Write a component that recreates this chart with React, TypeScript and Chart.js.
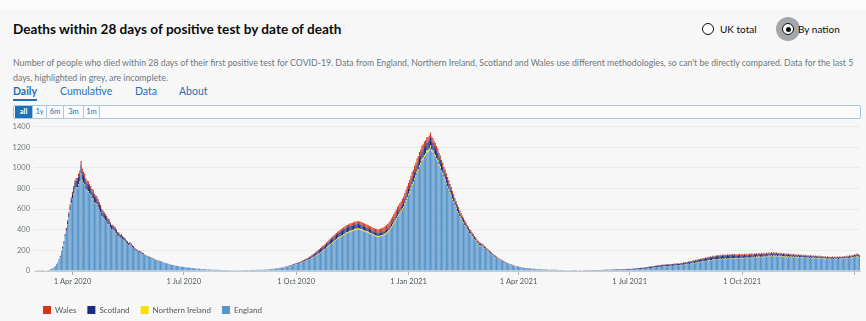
import React, { useEffect, useRef } from "react";
import { Chart, registerables } from "chart.js";

Chart.register(...registerables);

// ---------- data ----------
const START_DATE = "2020-03-01";
const END_DATE = "2022-01-05";

const tickDates = ["2020-04-01", "2020-07-01", "2020-10-01", "2021-01-01", "2021-04-01", "2021-07-01", "2021-10-01", "2022-01-01"];
const tickLabels = ["1 Apr 2020", "1 Jul 2020", "1 Oct 2020", "1 Jan 2021", "1 Apr 2021", "1 Jul 2021", "1 Oct 2021", ""];

const yMax = 1400;
const yStep = 200;

const seriesNames = ["England", "Northern Ireland", "Scotland", "Wales"];
const seriesColors = ["#5694ca", "#ffdd00", "#1a2a80", "#d4351c"];

const england = [
  /* Mar 2020 */ 0,0,1,0,1,2,1,3,2,5, 6,9,12,14,21,25,36,47,63,80, 106,138,182,222,268,332,388,452,518,588, 648,
  /* Apr 2020 */ 694,742,786,806,798,836,858,938,872,846, 830,786,772,764,742,726,698,694,656,648, 640,612,588,566,528,514,502,488,474,452,
  /* May 2020 */ 446,418,396,398,386,378,362,338,332,316, 322,306,298,288,272,262,248,256,244,228, 222,206,196,188,176,182,174,164,162,148, 142,
  /* Jun 2020 */ 138,136,128,126,118,116,108,104,102,98, 96,88,86,80,82,74,72,70,66,62, 58,56,56,50,50,48,44,44,40,40,
  /* Jul 2020 */ 38,36,36,32,34,30,30,28,26,26, 24,22,22,20,20,18,19,16,16,15, 15,14,14,12,13,12,12,11,11,11, 10,
  /* Aug 2020 */ 10,10,9,9,9,8,9,8,8,7, 8,7,8,9,8,7,8,9,8,9, 10,9,8,9,10,11,10,9,10,11, 12,
  /* Sep 2020 */ 12,11,12,13,14,13,15,16,17,16, 18,20,21,22,24,25,26,28,30,32, 34,36,40,42,46,48,50,54,58,62,
  /* Oct 2020 */ 64,66,70,74,78,82,88,92,96,100, 106,110,118,126,130,138,146,152,162,170, 178,188,196,202,210,222,232,244,254,262, 272,
  /* Nov 2020 */ 278,292,300,312,318,326,332,338,348,352, 362,366,370,378,380,386,388,398,394,400, 404,398,396,392,386,382,376,374,370,362,
  /* Dec 2020 */ 356,352,344,342,334,332,326,330,334,336, 340,346,352,362,372,386,402,420,438,462, 480,500,522,540,556,572,592,612,642,672, 702,
  /* Jan 2021 */ 734,758,794,826,848,884,908,946,968,1006, 1028,1066,1078,1104,1118,1146,1150,1166,1195,1158, 1146,1118,1104,1078,1056,1018,996,958,936,898, 874,
  /* Feb 2021 */ 842,808,782,748,724,688,662,628,604,572, 552,522,502,478,462,438,422,398,382,362, 352,332,322,302,292,272,262,248,
  /* Mar 2021 */ 245,238,230,220,212,202,192,182,172,162, 152,142,134,126,118,110,104,98,92,86, 80,75,70,66,62,58,54,50,47,44, 41,
  /* Apr 2021 */ 38,36,34,32,30,28,27,26,25,24, 22,21,20,19,18,17,17,16,15,15, 14,14,13,13,12,12,11,11,11,10,
  /* May 2021 */ 10,10,9,9,9,8,8,8,7,7, 7,7,6,6,6,6,6,6,6,5, 6,6,5,6,6,5,6,6,6,7, 7,
  /* Jun 2021 */ 7,6,7,6,7,7,8,7,8,8, 8,9,8,9,9,10,9,10,10,11, 10,11,11,12,11,12,12,13,12,12,
  /* Jul 2021 */ 12,11,14,13,15,14,16,17,16,19, 18,21,20,23,24,23,27,28,27,32, 31,35,34,37,38,37,41,40,43,42, 46,
  /* Aug 2021 */ 43,47,45,49,47,51,49,53,51,55, 52,57,55,60,58,64,61,67,65,72, 69,76,73,80,77,84,81,88,85,92, 89,
  /* Sep 2021 */ 96,93,100,97,103,99,107,103,109,105, 111,107,113,109,116,111,117,112,118,113, 119,114,120,115,121,116,120,117,123,118,
  /* Oct 2021 */ 124,118,126,120,127,121,129,123,131,124, 133,125,134,127,136,128,138,130,140,132, 142,134,144,136,146,137,147,138,145,136, 143,
  /* Nov 2021 */ 138,142,134,140,132,138,131,136,130,135, 128,134,127,133,126,132,125,131,124,130, 123,129,122,128,121,127,120,126,119,124,
  /* Dec 2021 */ 120,124,117,123,116,122,115,121,114,120, 113,119,113,118,112,118,112,119,113,120, 114,121,116,123,118,125,120,128,124,131, 128,
  /* Jan 2022 */ 136,132,140,135,130,
];

const northernIreland = [
  /* Mar 2020 */ 0,0,0,0,0,0,0,0,0,0, 0,0,0,0,0,0,0,0,0,0, 1,1,1,1,2,2,3,3,4,4, 5,
  /* Apr 2020 */ 6,6,7,7,8,8,8,10,9,9, 9,8,8,8,8,7,7,7,7,6, 6,6,6,5,5,5,5,4,4,4,
  /* May 2020 */ 4,4,4,3,3,3,3,3,3,2, 2,2,2,2,2,2,2,1,1,1, 1,1,1,1,1,1,1,1,1,1, 1,
  /* Jun 2020 */ 1,1,1,0,1,0,1,0,0,1, 0,0,1,0,0,0,1,0,0,0, 0,0,0,1,0,0,0,0,0,0,
  /* Jul 2020 */ 0,0,0,0,0,0,0,0,0,0, 0,0,0,0,0,0,0,0,0,0, 0,0,0,0,0,0,0,0,0,0, 0,
  /* Aug 2020 */ 0,0,0,0,0,0,0,0,0,0, 0,0,0,0,0,0,0,0,0,0, 0,0,0,0,0,0,0,0,0,0, 0,
  /* Sep 2020 */ 0,0,0,0,0,0,0,0,0,0, 0,0,0,0,0,0,0,0,0,0, 0,1,0,1,0,1,1,1,1,1,
  /* Oct 2020 */ 1,1,1,2,2,2,2,2,3,3, 3,3,3,4,4,4,4,5,5,5, 5,6,6,6,6,7,7,7,7,8, 8,
  /* Nov 2020 */ 8,8,8,9,9,9,9,10,10,10, 10,10,11,11,11,11,11,12,12,12, 12,12,12,12,12,11,11,11,11,10,
  /* Dec 2020 */ 10,10,10,10,10,10,10,10,10,10, 10,11,11,11,11,11,12,12,12,12, 12,13,13,13,13,13,14,14,14,15, 15,
  /* Jan 2021 */ 15,16,16,17,17,18,18,19,19,20, 20,20,21,21,21,21,21,20,20,20, 20,19,19,18,18,17,17,16,16,15, 15,
  /* Feb 2021 */ 14,14,13,13,12,12,11,11,10,10, 9,9,9,8,8,8,7,7,7,6, 6,6,5,5,5,5,4,4,
  /* Mar 2021 */ 4,4,4,3,3,3,3,3,2,2, 2,2,2,2,2,2,1,1,1,1, 1,1,1,1,1,1,1,1,1,1, 1,
  /* Apr 2021 */ 1,0,1,0,1,0,0,1,0,0, 0,1,0,0,0,0,1,0,0,0, 0,0,0,1,0,0,0,0,0,0,
  /* May 2021 */ 0,0,0,0,0,0,0,0,0,0, 0,0,1,0,0,0,0,0,0,0, 0,0,0,0,0,0,0,0,0,0, 0,
  /* Jun 2021 */ 0,0,0,0,0,0,0,0,0,0, 0,0,0,0,0,0,0,0,0,1, 0,0,0,0,0,0,0,0,1,0,
  /* Jul 2021 */ 0,0,1,0,0,1,0,0,1,0, 1,0,1,0,1,1,1,1,1,1, 1,1,1,1,1,1,2,2,2,2, 2,
  /* Aug 2021 */ 2,2,2,2,2,2,2,2,2,2, 2,3,3,3,3,3,3,3,3,3, 3,3,3,3,3,4,4,4,4,4, 4,
  /* Sep 2021 */ 4,4,4,4,4,4,5,5,5,5, 5,5,5,5,5,5,5,5,5,5, 5,5,5,5,5,5,5,5,5,5,
  /* Oct 2021 */ 5,5,5,5,5,5,5,5,5,5, 5,5,6,6,6,6,6,6,6,6, 6,6,6,6,6,6,6,6,6,6, 6,
  /* Nov 2021 */ 6,6,6,6,6,6,6,6,6,6, 6,6,5,5,5,5,5,5,5,5, 5,5,5,5,5,5,5,5,5,5,
  /* Dec 2021 */ 5,5,5,5,4,4,4,4,4,4, 4,4,4,4,4,4,4,4,4,4, 4,4,4,4,4,4,4,4,4,4, 4,
  /* Jan 2022 */ 4,4,5,5,4,
];

const scotland = [
  /* Mar 2020 */ 0,0,0,0,0,0,0,0,0,0, 0,0,0,1,0,1,2,1,3,3, 4,6,7,9,12,16,19,25,31,36, 43,
  /* Apr 2020 */ 48,54,61,63,67,70,73,80,75,73, 70,69,66,67,63,62,61,58,57,56, 55,53,52,50,48,47,45,44,41,40,
  /* May 2020 */ 38,37,35,34,32,31,29,28,27,26, 25,24,22,21,20,19,18,17,16,15, 14,13,12,12,11,10,10,9,8,8, 7,
  /* Jun 2020 */ 7,6,6,5,5,5,4,4,4,3, 3,3,3,2,2,2,2,2,1,1, 1,1,1,1,1,0,1,0,1,0,
  /* Jul 2020 */ 1,0,0,0,0,1,0,0,0,0, 0,0,0,0,0,0,0,0,0,0, 0,0,0,0,0,0,0,0,0,0, 0,
  /* Aug 2020 */ 0,0,0,0,0,0,0,0,0,0, 0,0,0,1,0,0,0,0,0,0, 0,0,0,1,0,0,0,0,0,0, 0,
  /* Sep 2020 */ 0,0,0,0,0,0,0,0,0,0, 1,0,1,1,1,1,1,2,1,2, 2,2,3,3,3,4,4,5,5,6,
  /* Oct 2020 */ 6,7,8,8,9,10,11,12,13,14, 15,16,17,18,20,21,22,24,25,26, 27,28,30,30,32,33,34,35,36,37, 38,
  /* Nov 2020 */ 38,39,40,40,42,42,43,44,44,45, 46,46,47,46,45,44,44,43,42,41, 40,40,39,38,37,36,35,34,33,32,
  /* Dec 2020 */ 32,31,30,30,30,29,29,28,28,28, 28,28,28,28,28,28,28,29,30,30, 31,32,33,34,35,36,38,40,42,44, 46,
  /* Jan 2021 */ 48,50,52,55,57,60,62,64,66,68, 70,72,72,74,74,75,76,76,77,76, 75,74,72,70,68,66,64,62,60,58, 56,
  /* Feb 2021 */ 54,52,50,48,46,44,42,40,38,36, 34,32,30,29,28,27,26,25,24,23, 22,21,20,19,18,17,16,15,
  /* Mar 2021 */ 14,14,13,12,12,11,10,10,9,9, 8,8,7,7,6,6,6,5,5,5, 4,4,4,3,3,3,3,3,2,2, 2,
  /* Apr 2021 */ 2,2,2,2,1,1,1,1,1,1, 1,1,1,1,1,1,1,1,1,1, 1,0,1,1,0,1,0,1,0,1,
  /* May 2021 */ 0,1,0,1,0,1,0,1,0,1, 1,1,1,1,1,1,1,1,1,1, 1,1,1,1,1,2,1,1,2,1, 2,
  /* Jun 2021 */ 2,1,2,2,2,2,2,2,2,3, 3,3,3,3,3,3,4,4,4,4, 5,5,5,5,6,6,6,7,7,7,
  /* Jul 2021 */ 8,8,8,9,9,9,10,10,10,10, 11,11,11,12,12,12,12,12,13,13, 13,13,14,14,14,14,14,14,14,14, 14,
  /* Aug 2021 */ 14,14,14,14,14,14,14,14,14,14, 14,15,15,15,15,15,16,16,17,17, 18,18,19,20,20,21,22,22,23,24, 24,
  /* Sep 2021 */ 25,25,26,26,27,27,28,28,28,29, 29,30,30,30,30,30,30,30,30,30, 30,30,30,29,29,29,28,28,28,27,
  /* Oct 2021 */ 27,27,26,26,26,25,25,25,25,24, 24,24,24,23,23,23,23,22,22,22, 22,22,21,21,21,21,20,20,20,20, 20,
  /* Nov 2021 */ 20,20,19,19,19,19,18,18,18,18, 18,18,17,17,17,17,17,16,16,16, 16,16,15,15,15,15,15,15,14,14,
  /* Dec 2021 */ 14,14,14,13,13,13,13,13,12,12, 12,12,12,12,12,12,12,12,12,12, 12,12,12,12,12,12,12,13,13,13, 14,
  /* Jan 2022 */ 14,15,16,16,15,
];

const wales = [
  /* Mar 2020 */ 0,0,0,0,0,0,0,0,0,0, 0,0,0,0,0,0,1,1,2,2, 3,3,4,5,6,8,10,12,14,16, 18,
  /* Apr 2020 */ 20,22,24,26,28,30,32,38,35,34, 33,32,31,30,30,29,28,27,26,25, 24,23,22,21,20,19,18,17,16,15,
  /* May 2020 */ 15,14,14,13,12,12,11,10,10,9, 9,8,8,7,7,6,6,6,5,5, 5,4,4,4,4,3,3,3,3,2, 2,
  /* Jun 2020 */ 2,2,2,2,2,2,1,1,1,1, 1,1,1,1,1,1,1,1,1,0, 1,0,1,0,1,0,1,0,0,1,
  /* Jul 2020 */ 0,1,0,0,1,0,0,0,1,0, 0,0,0,1,0,0,0,0,0,0, 1,0,0,0,0,0,0,0,0,0, 0,
  /* Aug 2020 */ 0,0,0,0,0,0,1,0,0,0, 0,0,0,0,0,0,0,0,0,0, 0,0,0,0,0,0,0,1,0,0, 0,
  /* Sep 2020 */ 0,0,0,0,0,0,0,0,0,0, 0,1,0,1,0,1,1,1,1,1, 1,2,2,2,2,2,3,3,3,3,
  /* Oct 2020 */ 3,4,4,4,5,5,5,6,6,7, 7,8,8,9,9,10,10,11,12,12, 13,13,14,15,15,16,16,17,17,18, 18,
  /* Nov 2020 */ 19,19,20,20,21,21,22,22,23,23, 24,24,25,25,26,26,27,27,28,28, 29,29,30,30,30,31,31,31,32,32,
  /* Dec 2020 */ 32,33,33,34,34,35,36,37,38,39, 40,41,42,43,44,45,46,47,48,49, 50,51,52,53,54,55,56,57,58,58, 59,
  /* Jan 2021 */ 59,59,60,60,60,60,60,60,60,59, 58,57,56,55,54,53,52,51,50,49, 48,47,46,45,44,43,42,41,40,39, 38,
  /* Feb 2021 */ 37,36,34,33,32,30,29,28,27,26, 25,24,23,22,21,20,19,18,17,16, 16,15,14,13,13,12,12,11,
  /* Mar 2021 */ 11,10,10,9,9,8,8,7,7,7, 6,6,6,5,5,5,4,4,4,4, 3,3,3,3,3,2,2,2,2,2, 2,
  /* Apr 2021 */ 2,1,1,1,1,1,1,1,1,1, 1,1,0,1,0,1,0,1,0,0, 1,0,0,1,0,0,0,1,0,0,
  /* May 2021 */ 0,0,1,0,0,0,0,1,0,0, 0,0,0,0,1,0,0,0,0,0, 0,1,0,0,0,0,0,0,1,0, 0,
  /* Jun 2021 */ 0,0,0,1,0,0,0,0,0,1, 0,0,0,0,0,1,0,0,0,0, 1,0,0,1,0,0,1,0,1,1,
  /* Jul 2021 */ 1,1,1,1,1,1,1,2,2,2, 2,2,2,2,2,3,3,3,3,3, 3,3,3,4,4,4,4,4,4,4, 4,
  /* Aug 2021 */ 4,4,4,4,5,5,5,5,5,5, 5,5,5,6,6,6,6,6,6,6, 6,6,7,7,7,7,7,7,7,7, 7,
  /* Sep 2021 */ 7,7,8,8,8,8,8,8,8,9, 9,9,9,9,9,9,9,9,9,9, 9,10,10,10,10,10,10,10,10,10,
  /* Oct 2021 */ 10,9,10,11,10,9,10,11,10,10, 9,10,11,10,10,9,10,11,10,10, 9,10,11,10,10,9,10,11,10,10, 9,
  /* Nov 2021 */ 9,9,9,9,9,9,9,9,8,8, 8,8,8,8,8,8,8,8,8,8, 7,7,7,7,7,7,7,7,7,7,
  /* Dec 2021 */ 7,7,7,7,7,6,6,6,6,6, 6,6,6,6,6,6,6,6,6,6, 6,6,6,6,6,6,7,7,7,7, 7,
  /* Jan 2022 */ 7,8,8,8,7,
];

const seriesValues = [england, northernIreland, scotland, wales];

function buildDays(start: string, end: string): string[] {
  const out: string[] = [];
  const d = new Date(start + "T00:00:00Z");
  const e = new Date(end + "T00:00:00Z");
  while (d <= e) {
    out.push(d.toISOString().slice(0, 10));
    d.setUTCDate(d.getUTCDate() + 1);
  }
  return out;
}

const dayLabels = buildDays(START_DATE, END_DATE);

const FONT = "Lato, 'Open Sans', sans-serif";
const BLUE = "#1d70b8";

// shifts the bottom legend so its first item lines up under the plot area
const legendShift = {
  id: "legendShift",
  afterLayout(chart: any) {
    const lg = chart.legend;
    if (lg) {
      const dx = 32 - lg.left;
      lg.left += dx;
      lg.right += dx;
    }
  },
};

function DeathsChart() {
  const ref = useRef<HTMLCanvasElement | null>(null);
  useEffect(() => {
    if (!ref.current) return;
    const chart = new Chart(ref.current, {
      type: "bar",
      data: {
        labels: dayLabels,
        datasets: seriesNames.map((name, i) => ({
          label: name,
          data: seriesValues[i],
          backgroundColor: seriesColors[i],
          borderWidth: 0,
          barPercentage: 1,
          categoryPercentage: 0.9,
          stack: "nations",
        })),
      },
      options: {
        animation: false,
        responsive: false,
        maintainAspectRatio: false,
        layout: { padding: { left: 4, right: 6, top: 6, bottom: 0 } },
        plugins: {
          legend: {
            position: "bottom",
            align: "start",
            reverse: true,
            labels: {
              boxWidth: 8,
              boxHeight: 8,
              padding: 11,
              color: "#505a5f",
              font: { size: 8, family: FONT },
            },
          },
          tooltip: { enabled: false },
        },
        scales: {
          x: {
            stacked: true,
            grid: {
              display: true,
              drawOnChartArea: false,
              drawTicks: true,
              tickLength: 4,
              color: "#b1b4b6",
              offset: false,
            },
            border: { display: true, color: "#c8cacb" },
            ticks: {
              autoSkip: false,
              maxRotation: 0,
              minRotation: 0,
              padding: 2,
              color: "#505a5f",
              font: { size: 7.5, family: FONT },
              callback: (value: any) => {
                const idx = tickDates.indexOf(dayLabels[value as number]);
                return idx >= 0 ? tickLabels[idx] : "";
              },
            },
            afterBuildTicks: (scale: any) => {
              scale.ticks = scale.ticks.filter((t: any) => tickDates.includes(dayLabels[t.value]));
            },
            afterFit: (scale: any) => {
              scale.height = 24;
            },
          },
          y: {
            stacked: true,
            min: 0,
            max: yMax,
            ticks: {
              stepSize: yStep,
              padding: 4,
              color: "#6f777b",
              font: { size: 7.5, family: FONT },
              callback: (value: any) => String(value),
            },
            grid: { color: "#ebebeb", drawTicks: false },
            border: { display: false },
            afterFit: (scale: any) => {
              scale.width = 30;
            },
          },
        },
      },
      plugins: [legendShift],
    } as any);
    return () => chart.destroy();
  }, []);
  return (
    <canvas
      ref={ref}
      width={866}
      height={206}
      style={{ position: "absolute", left: 0, top: 118, width: 866, height: 206 }}
    />
  );
}

export default function App() {
  const tabs = [
    { label: "Daily", x: 13, active: true },
    { label: "Cumulative", x: 60, active: false },
    { label: "Data", x: 135, active: false },
    { label: "About", x: 179, active: false },
  ];
  const spans = [
    { label: "all", x: 15, w: 18 },
    { label: "1y", x: 33, w: 14 },
    { label: "6m", x: 47, w: 17 },
    { label: "3m", x: 64, w: 20 },
    { label: "1m", x: 84, w: 16 },
  ];
  return (
    <div
      style={{
        position: "fixed",
        left: 0,
        top: 0,
        width: 866,
        height: 321,
        overflow: "hidden",
        background: "#f7f7f7",
        fontFamily: FONT,
      }}
    >
      <div style={{ position: "absolute", left: 0, top: 0, width: 866, height: 9, background: "#fcfcfc" }} />
      <div
        style={{
          position: "absolute",
          left: 13,
          top: 20,
          fontSize: 13.6,
          fontWeight: 700,
          lineHeight: "18px",
          color: "#0b0c0c",
          whiteSpace: "nowrap",
        }}
      >
        Deaths within 28 days of positive test by date of death
      </div>

      {/* radios */}
      <div
        style={{
          position: "absolute",
          left: 702,
          top: 23,
          width: 12,
          height: 12,
          borderRadius: "50%",
          border: "1.5px solid #0b0c0c",
          boxSizing: "border-box",
          background: "#fff",
        }}
      />
      <div style={{ position: "absolute", left: 720, top: 22, fontSize: 10, lineHeight: "14px", color: "#0b0c0c", whiteSpace: "nowrap" }}>
        UK total
      </div>
      <div
        style={{
          position: "absolute",
          left: 776,
          top: 17,
          width: 24,
          height: 24,
          borderRadius: "50%",
          background: "#a4a7a9",
        }}
      />
      <div
        style={{
          position: "absolute",
          left: 782,
          top: 23,
          width: 12,
          height: 12,
          borderRadius: "50%",
          border: "1.5px solid #0b0c0c",
          boxSizing: "border-box",
          background: "#fff",
        }}
      />
      <div style={{ position: "absolute", left: 785.5, top: 26.5, width: 5, height: 5, borderRadius: "50%", background: "#0b0c0c" }} />
      <div style={{ position: "absolute", left: 798, top: 22, fontSize: 10, lineHeight: "14px", color: "#0b0c0c", whiteSpace: "nowrap" }}>
        By nation
      </div>

      {/* description */}
      <div
        style={{
          position: "absolute",
          left: 13,
          top: 55,
          fontSize: 8.75,
          lineHeight: "15px",
          color: "#6f777b",
          whiteSpace: "nowrap",
        }}
      >
        Number of people who died within 28 days of their first positive test for COVID-19. Data from England, Northern Ireland, Scotland and Wales use different methodologies, so can't be directly compared. Data for the last 5
        <br />
        days, highlighted in grey, are incomplete.
      </div>

      {/* tabs */}
      {tabs.map((t) => (
        <div
          key={t.label}
          style={{
            position: "absolute",
            left: t.x,
            top: 84,
            fontSize: 10.5,
            lineHeight: "14px",
            fontWeight: t.active ? 700 : 400,
            color: BLUE,
            whiteSpace: "nowrap",
            borderBottom: t.active ? `2px solid ${BLUE}` : "none",
            paddingBottom: 1,
          }}
        >
          {t.label}
        </div>
      ))}

      {/* timespan selector */}
      <div
        style={{
          position: "absolute",
          left: 13,
          top: 105,
          width: 848,
          height: 14,
          border: "1px solid #a8c9e6",
          borderRadius: 2,
          boxSizing: "border-box",
          background: "#fbfbfb",
        }}
      />
      {spans.map((s, i) => (
        <div
          key={s.label}
          style={{
            position: "absolute",
            left: s.x,
            top: 106,
            width: s.w,
            height: 12,
            boxSizing: "border-box",
            background: i === 0 ? BLUE : "transparent",
            borderRight: "1px solid #a8c9e6",
            color: i === 0 ? "#fff" : BLUE,
            fontSize: 7.5,
            lineHeight: "12px",
            textAlign: "center",
            fontWeight: i === 0 ? 700 : 400,
          }}
        >
          {s.label}
        </div>
      ))}

      <DeathsChart />
    </div>
  );
}
